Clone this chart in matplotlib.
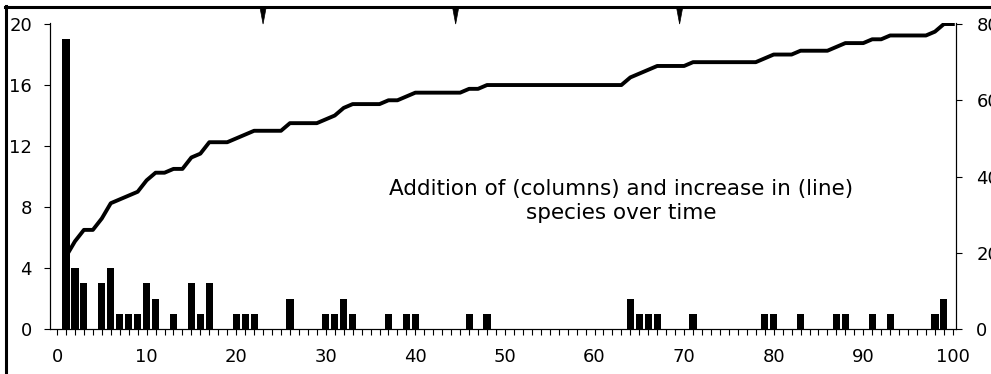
import numpy as np
import matplotlib
matplotlib.use("Agg")
import matplotlib.pyplot as plt
from matplotlib.lines import Line2D
from matplotlib.patches import Polygon
from matplotlib.ticker import MultipleLocator

# day on which new species turned up, and how many
days = [1, 2, 3, 5, 6, 7, 8, 9, 10, 11, 13, 15, 16, 17, 20, 21, 22, 26, 30, 31,
        32, 33, 37, 39, 40, 46, 48, 64, 65, 66, 67, 71, 79, 80, 83, 87, 88, 91,
        93, 98, 99]
new_species = [19, 4, 3, 3, 4, 1, 1, 1, 3, 2, 1, 3, 1, 3, 1, 1, 1, 2, 1, 1,
               2, 1, 1, 1, 1, 1, 1, 2, 1, 1, 1, 1, 1, 1, 1, 1, 1, 1,
               1, 1, 2]
last_day = 100
# the little down-pointing markers hanging from the top frame
event_days = [23, 44.5, 69.5]

left_ticks = [0, 4, 8, 12, 16, 20]
right_ticks = [0, 20, 40, 60, 80]
x_ticks = list(range(0, 101, 10))
title = "Addition of (columns) and increase in (line)\nspecies over time"

plt.rcParams["font.family"] = ["DejaVu Sans"]

# running total of species per day
all_days = np.arange(1, last_day + 1)
daily = np.zeros(last_day)
daily[np.array(days) - 1] = new_species
total = np.cumsum(daily)

fig = plt.figure(figsize=(9.91, 3.74), dpi=100)
ax = fig.add_axes([0.0505, 0.1203, 0.9137, 0.8195])

ax.bar(days, new_species, width=0.8, color="black", zorder=2)
ax.set_xlim(-0.78, 100.3)
ax.set_ylim(0, 20.1)
ax.set_yticks(left_ticks)
ax.set_xticks(x_ticks)
ax.xaxis.set_minor_locator(MultipleLocator(1))
ax.tick_params(axis="y", direction="out", length=4, width=0.8, pad=9, labelsize=13)
ax.tick_params(axis="x", which="both", direction="out", length=4, width=0.8,
               pad=10, labelsize=13)
ax.spines["top"].set_visible(False)
for side in ["left", "bottom", "right"]:
    ax.spines[side].set_linewidth(0.8)

ax2 = ax.twinx()
ax2.plot(all_days, total, color="black", lw=2.8, solid_joinstyle="round", zorder=3)
ax2.set_ylim(0, 80.4)
ax2.set_yticks(right_ticks)
ax2.tick_params(axis="y", direction="out", length=4, width=0.8, pad=11, labelsize=13)
ax2.spines["top"].set_visible(False)
ax2.spines["right"].set_linewidth(0.8)

ax.text(63, 8.4, title, ha="center", va="center", multialignment="center",
        fontsize=15.5, linespacing=1.22)

# event markers hanging from the top frame line
xt = ax.get_xaxis_transform()
for d in event_days:
    tri = Polygon([[d - 0.35, 1.05], [d + 0.35, 1.05], [d, 0.995]], closed=True,
                  facecolor="black", edgecolor="black", lw=0.5,
                  transform=xt, clip_on=False)
    ax.add_patch(tri)

# frame lines of the scanned figure (top and left)
fig.add_artist(Line2D([0.005, 1.0], [0.982, 0.982], color="black", lw=2.2,
                      transform=fig.transFigure))
fig.add_artist(Line2D([0.0065, 0.0065], [0.0, 0.984], color="black", lw=2.2,
                      transform=fig.transFigure))

fig.savefig("out.png", dpi=100)
